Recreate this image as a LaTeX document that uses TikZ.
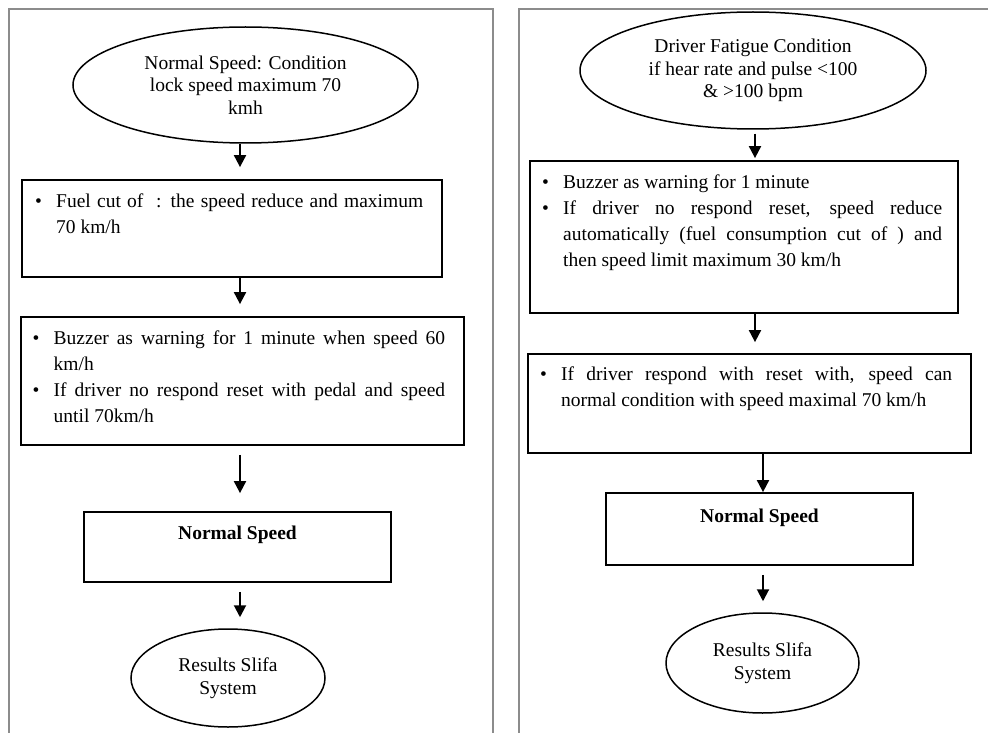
\documentclass[tikz,border=0pt]{standalone}
\usepackage{fontspec}
\setmainfont{Liberation Serif}
\usetikzlibrary{arrows.meta,shapes.geometric}
\newcommand\bitem{\par\noindent\hangindent=21pt\hangafter=1\makebox[21pt][l]{\textbullet}}
\newcommand\blist[2]{\parbox[t]{#1}{\fontsize{19.5}{26.3}\selectfont\parindent=0pt #2\par}}
\begin{document}
\begin{tikzpicture}[x=1pt,y=-1pt,
  panel/.style={draw=black!45,line width=2pt},
  boxn/.style={draw=black,line width=1.8pt,rectangle,inner sep=0pt},
  ell/.style={draw=black,line width=1.5pt,ellipse,inner sep=0pt,align=center,font=\fontsize{19.5}{22.5}\selectfont},
  txt/.style={inner sep=0pt,anchor=base west},
  bold/.style={inner sep=0pt,anchor=base,font=\fontsize{19.5}{22}\selectfont\bfseries},
  arr/.style={line width=2pt,-{Triangle[length=12pt,width=12pt]}},
]
\useasboundingbox[fill=white] (0,0) rectangle (988,733);

% panels
\draw[panel] (9,733) -- (9,9) -- (493,9) -- (493,733);
\draw[panel] (519,733) -- (519,9) -- (988,9);

% left column
\node[ell,minimum width=345pt,minimum height=116pt] (le) at (245.5,85)
  {Normal Speed: Condition\\lock speed maximum 70\\kmh};
\node[boxn,minimum width=420pt,minimum height=97pt] (lb1) at (232,228.5) {};
\node[txt] (lt1) at (35,207)
  {\blist{388pt}{\bitem Fuel cut of\ \ : the speed reduce and maximum\linebreak 70 km/h}};
\node[boxn,minimum width=443pt,minimum height=128pt] (lb2) at (242.5,381) {};
\node[txt] (lt2) at (32.5,344)
  {\blist{412.5pt}{\bitem Buzzer as warning for 1 minute when speed 60\linebreak km/h
   \bitem If driver no respond reset with pedal and speed\linebreak until 70km/h}};
\node[boxn,minimum width=307pt,minimum height=70pt] (lns) at (237.5,547) {};
\node[bold] (lnst) at (237.5,539) {Normal Speed};
\node[ell,minimum width=194pt,minimum height=98pt] (lc) at (228,678)
  {Results Slifa\\System};

\coordinate (cl) at (240,0);
\draw[arr,shorten >=12pt] (le.south -| cl) -- (lb1.north -| cl);
\draw[arr,shorten >=12pt] (lb1.south -| cl) -- (lb2.north -| cl);
\draw[arr,shorten <=9pt,shorten >=18pt] (lb2.south -| cl) -- (lns.north -| cl);
\draw[arr,shorten <=9pt,shorten >=11pt] (lns.south -| cl) -- (lc.north -| cl);

% right column
\node[ell,minimum width=346pt,minimum height=117pt] (re) at (753,70.5)
  {Driver Fatigue Condition\\if hear rate and pulse <100\\\& >100 bpm};
\node[boxn,minimum width=428pt,minimum height=152pt] (rb1) at (744,237) {};
\node[txt] (rt1) at (542,188)
  {\blist{400pt}{\bitem Buzzer as warning for 1 minute
   \bitem If driver no respond reset, speed reduce\linebreak automatically (fuel consumption cut of ) and\linebreak then speed limit maximum 30 km/h}};
\node[boxn,minimum width=443pt,minimum height=99pt] (rb2) at (749.5,403.5) {};
\node[txt] (rt2) at (540,380)
  {\blist{412pt}{\bitem If driver respond with reset with, speed can\linebreak normal condition with speed maximal 70 km/h}};
\node[boxn,minimum width=307pt,minimum height=72pt] (rns) at (759.5,529) {};
\node[bold] (rnst) at (759.5,522) {Normal Speed};
\node[ell,minimum width=193pt,minimum height=100pt] (rc) at (762.5,663)
  {Results Slifa\\System};

\coordinate (cr1) at (755,0);
\coordinate (cr2) at (763,0);
\draw[arr,shorten <=4pt,shorten >=2pt] (re.south -| cr1) -- (rb1.north -| cr1);
\draw[arr,shorten >=11pt] (rb1.south -| cr1) -- (rb2.north -| cr1);
\draw[arr] (rb2.south -| cr2) -- (rns.north -| cr2);
\draw[arr,shorten <=9pt,shorten >=11pt] (rns.south -| cr2) -- (rc.north -| cr2);
\end{tikzpicture}
\end{document}
